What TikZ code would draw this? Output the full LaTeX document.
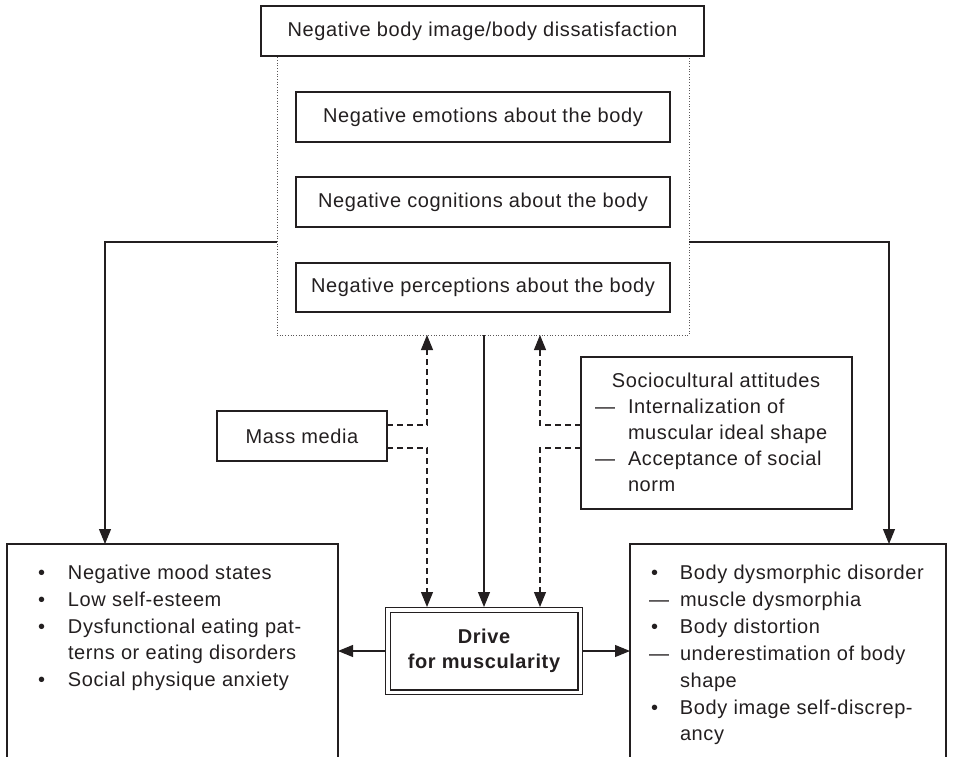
\documentclass[tikz,border=0pt]{standalone}
\usepackage{fontspec}
\setmainfont{Liberation Sans}[LetterSpace=3.0]
\usetikzlibrary{arrows.meta}
\definecolor{ink}{RGB}{35,31,32}
\begin{document}
\begin{tikzpicture}[x=1pt,y=-1pt,
  every node/.style={text=ink, font=\fontsize{20}{24}\selectfont},
  box/.style={draw=ink, line width=1.1pt, rectangle, inner sep=0pt, outer sep=0pt, anchor=north west},
  txt/.style={anchor=base west, inner sep=0pt, outer sep=0pt},
  ctxt/.style={anchor=base, inner sep=0pt, outer sep=0pt},
  conn/.style={draw=ink, line width=1.1pt, -{Triangle[length=15pt,width=12pt]}},
  dashconn/.style={conn, dash pattern=on 6pt off 4pt}
]
\useasboundingbox (0,0) rectangle (954,756);
\clip (0,0) rectangle (954,756);

% dotted frame around the three components
\node[draw=ink!75, dotted, line width=0.7pt, rectangle, minimum width=412, minimum height=279,
      anchor=north west, inner sep=0pt, outer sep=0pt] (frame) at (277,56) {};

\node[box, minimum width=443, minimum height=50] (top) at (261,6) {Negative body image/body dissatisfaction};
\node[box, minimum width=374, minimum height=50] (emo) at (296,92) {Negative emotions about the body};
\node[box, minimum width=374, minimum height=50] (cog) at (296,177) {Negative cognitions about the body};
\node[box, minimum width=374, minimum height=49] (per) at (296,263) {Negative perceptions about the body};

\node[box, minimum width=170, minimum height=50] (mm) at (217,411) {Mass media};
\node[box, minimum width=271, minimum height=152] (soc) at (581,357) {};

\node[draw=ink, line width=1.1pt, double, double distance=3.4pt, rectangle,
      minimum width=192.4, minimum height=82.4, inner sep=0pt, outer sep=2.8pt,
      align=center, font=\bfseries\fontsize{20}{25}\selectfont] (drive) at (484,651) {Drive\\for muscularity};

\node[box, minimum width=331, minimum height=260] (lbox) at (7,544) {};
\node[box, minimum width=316, minimum height=260] (rbox) at (630,544) {};

% sociocultural text
\node[ctxt] (s1) at (716,387) {Sociocultural attitudes};
\node[txt] (s2) at (595,413) {\makebox[33pt][l]{—}Internalization of};
\node[txt] (s3) at (628,439) {muscular ideal shape};
\node[txt] (s4) at (595,465) {\makebox[33pt][l]{—}Acceptance of social};
\node[txt] (s5) at (628,491) {norm};

% left list
\node[txt] (l1) at (38,579) {\makebox[30pt][l]{•}Negative mood states};
\node[txt] (l2) at (38,606) {\makebox[30pt][l]{•}Low self-esteem};
\node[txt] (l3) at (38,633) {\makebox[30pt][l]{•}Dysfunctional eating pat-};
\node[txt] (l4) at (68,659) {terns or eating disorders};
\node[txt] (l5) at (38,686) {\makebox[30pt][l]{•}Social physique anxiety};

% right list
\node[txt] (r1) at (649,579) {\makebox[31pt][l]{\hspace{2pt}•}Body dysmorphic disorder};
\node[txt] (r2) at (649,606) {\makebox[31pt][l]{—}muscle dysmorphia};
\node[txt] (r3) at (649,633) {\makebox[31pt][l]{\hspace{2pt}•}Body distortion};
\node[txt] (r4) at (649,660) {\makebox[31pt][l]{—}underestimation of body};
\node[txt] (r5) at (680,687) {shape};
\node[txt] (r6) at (649,714) {\makebox[31pt][l]{\hspace{2pt}•}Body image self-discrep-};
\node[txt] (r7) at (680,740) {ancy};

% helper coordinates
\coordinate (cl) at (427,0);
\coordinate (cr) at (540,0);
\coordinate (xl) at (105,0);
\coordinate (xr) at (889,0);
\coordinate (yh) at (0,242);

% connectors
\draw[conn] (frame.west |- yh) -| (xl |- lbox.north);
\draw[conn] (frame.east |- yh) -| (xr |- rbox.north);
\draw[conn] (drive.north |- frame.south) -- (drive.north);
\draw[dashconn] ([yshift=11pt]mm.east) -| (cl |- frame.south);
\draw[dashconn] ([yshift=-12pt]mm.east) -| (cl |- drive.north);
\draw[dashconn] ([yshift=8pt]soc.west) -| (cr |- frame.south);
\draw[dashconn] ([yshift=-15pt]soc.west) -| (cr |- drive.north);
\draw[conn] (drive.west) -- (lbox.east |- drive.west);
\draw[conn] (drive.east) -- (rbox.west |- drive.east);
\end{tikzpicture}
\end{document}
